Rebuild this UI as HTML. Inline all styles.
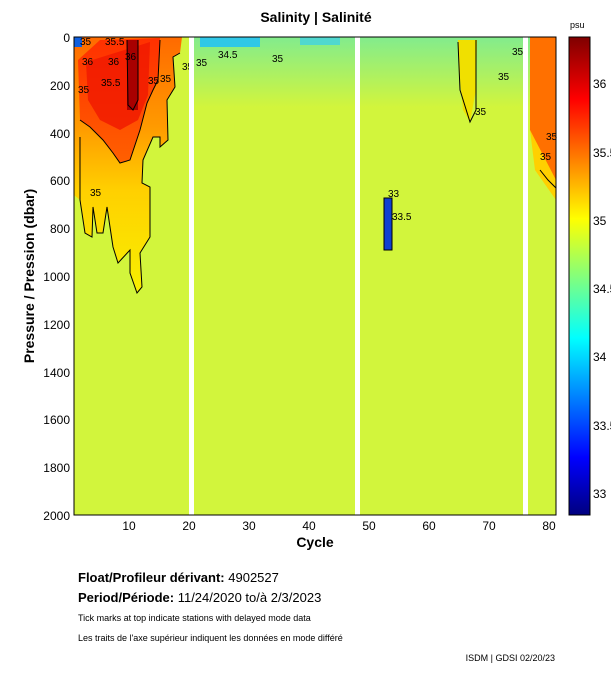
<!DOCTYPE html>
<html><head><meta charset="utf-8"><style>
body{margin:0;background:#fff;width:611px;height:675px;overflow:hidden;font-family:"Liberation Sans",sans-serif;}
</style></head><body>
<svg width="611" height="675" xmlns="http://www.w3.org/2000/svg" font-family="Liberation Sans, sans-serif">
<defs>
<linearGradient id="cb" x1="0" y1="1" x2="0" y2="0">
<stop offset="0" stop-color="#00007f"/>
<stop offset="0.12" stop-color="#0000ff"/>
<stop offset="0.37" stop-color="#00ffff"/>
<stop offset="0.62" stop-color="#ffff00"/>
<stop offset="0.87" stop-color="#ff0000"/>
<stop offset="1" stop-color="#7f0000"/>
</linearGradient>
<linearGradient id="topc" x1="0" y1="0" x2="0" y2="1">
<stop offset="0" stop-color="#60e8b0"/>
<stop offset="1" stop-color="#d2f53c"/>
</linearGradient>
<linearGradient id="warm" x1="0" y1="0" x2="0" y2="1">
<stop offset="0" stop-color="#ff6a00"/>
<stop offset="0.35" stop-color="#ff9a00"/>
<stop offset="0.6" stop-color="#ffd000"/>
<stop offset="1" stop-color="#f8f000"/>
</linearGradient>
<linearGradient id="red" x1="0" y1="0" x2="0" y2="1">
<stop offset="0" stop-color="#ff3000"/>
<stop offset="1" stop-color="#ff6000"/>
</linearGradient>
</defs>
<text x="316" y="22" font-size="14" font-weight="bold" text-anchor="middle">Salinity | Salinité</text>
<rect x="74" y="37" width="482" height="478" fill="#d2f53c"/>
<rect x="190" y="37" width="340" height="70" fill="url(#topc)" opacity="0.7"/>
<rect x="200" y="37" width="60" height="10" fill="#30c8e8"/>
<rect x="300" y="37" width="40" height="8" fill="#50d8d0"/>
<!-- warm region left -->
<path d="M74,37 L182,37 L180,53 L173,57 L175,87 L167,100 L168,140 L160,147 L160,137 L153,137 L143,160 L142,183 L150,187 L150,237 L140,253 L142,287 L137,293 L130,273 L130,250 L118,263 L113,247 L107,207 L103,233 L97,233 L93,207 L92,237 L85,233 L80,200 L74,195 Z" fill="url(#warm)"/>
<path d="M78,60 L100,40 L160,38 L158,80 L153,90 L147,103 L140,130 L130,160 L120,163 L113,153 L103,140 L90,127 L80,120 Z" fill="url(#red)"/>
<path d="M86,62 L150,42 L148,95 L138,120 L120,130 L100,120 L88,100 Z" fill="#f01800" opacity="0.8"/>
<rect x="127" y="40" width="11" height="70" fill="#a80000"/>
<rect x="74" y="37" width="8" height="10" fill="#1060e0"/>
<!-- right warm -->
<path d="M530,37 L556,37 L556,180 L540,160 L530,130 Z" fill="#ff7000"/>
<path d="M530,130 L556,180 L556,200 L535,170 Z" fill="#ffd000"/>
<path d="M458,40 L477,40 L476,90 L470,122 L463,110 L459,70 Z" fill="#f0e000"/>
<!-- blue spot -->
<rect x="384" y="198" width="8" height="52" fill="#1040d0" stroke="#000" stroke-width="1"/>
<!-- contours -->
<g fill="none" stroke="#000" stroke-width="1">
<path d="M80,120 L90,127 L103,140 L113,153 L120,163 L130,160 L140,130 L147,103 L153,90 L158,80 L160,40"/>
<path d="M80,137 L80,200 L85,233 L92,237 L93,207 L97,233 L103,233 L107,207 L113,247 L118,263 L130,250 L130,273 L137,293 L142,287 L140,253 L150,237 L150,187 L142,183 L143,160 L153,137 L160,137 L160,147 L168,140 L167,100 L175,87 L173,57 L180,53"/>
<path d="M127,40 L128,105 L133,110 L138,100 L138,40"/>
<path d="M458,42 L460,90 L470,122 L476,110 L476,40"/>
<path d="M540,170 L548,180 L556,188"/>
</g>
<g font-size="10">
<text x="80" y="45">35</text><text x="105" y="45">35.5</text><text x="82" y="65">36</text><text x="108" y="65">36</text><text x="125" y="60">36</text>
<text x="78" y="93">35</text><text x="101" y="86">35.5</text><text x="148" y="84">35</text><text x="160" y="82">35</text>
<text x="196" y="66">35</text><text x="182" y="70">35</text><text x="218" y="58">34.5</text><text x="272" y="62">35</text>
<text x="90" y="196">35</text><text x="475" y="115">35</text><text x="498" y="80">35</text><text x="512" y="55">35</text>
<text x="546" y="140">35</text><text x="540" y="160">35</text><text x="388" y="197">33</text><text x="392" y="220">33.5</text>
</g>
<!-- gaps -->
<rect x="189" y="37" width="5" height="478" fill="#fff"/>
<rect x="355" y="37" width="5" height="478" fill="#fff"/>
<rect x="523" y="37" width="5" height="478" fill="#fff"/>
<rect x="74" y="37" width="482" height="478" fill="none" stroke="#000"/>
<g font-size="12" text-anchor="end">
<text x="70" y="42">0</text><text x="70" y="90">200</text><text x="70" y="138">400</text><text x="70" y="185">600</text>
<text x="70" y="233">800</text><text x="70" y="281">1000</text><text x="70" y="329">1200</text><text x="70" y="377">1400</text>
<text x="70" y="424">1600</text><text x="70" y="472">1800</text><text x="70" y="520">2000</text>
</g>
<text transform="translate(34,276) rotate(-90)" font-size="14" font-weight="bold" text-anchor="middle">Pressure / Pression (dbar)</text>
<g font-size="12" text-anchor="middle">
<text x="129" y="530">10</text><text x="189" y="530">20</text><text x="249" y="530">30</text><text x="309" y="530">40</text>
<text x="369" y="530">50</text><text x="429" y="530">60</text><text x="489" y="530">70</text><text x="549" y="530">80</text>
</g>
<text x="315" y="547" font-size="14" font-weight="bold" text-anchor="middle">Cycle</text>
<rect x="569" y="37" width="21" height="478" fill="url(#cb)" stroke="#000"/>
<text x="570" y="28" font-size="9">psu</text>
<g font-size="12">
<text x="593" y="88">36</text><text x="593" y="157">35.5</text><text x="593" y="225">35</text><text x="593" y="293">34.5</text>
<text x="593" y="361">34</text><text x="593" y="430">33.5</text><text x="593" y="498">33</text>
</g>
<text x="78" y="582" font-size="13" font-weight="bold">Float/Profileur dérivant: <tspan font-weight="normal">4902527</tspan></text>
<text x="78" y="602" font-size="13" font-weight="bold">Period/Période: <tspan font-weight="normal">11/24/2020  to/à  2/3/2023</tspan></text>
<text x="78" y="621" font-size="9">Tick marks at top indicate stations with delayed mode data</text>
<text x="78" y="641" font-size="9">Les traits de l'axe supérieur indiquent les données en mode différé</text>
<text x="555" y="661" font-size="9" text-anchor="end">ISDM | GDSI  02/20/23</text>
</svg>
</body></html>
